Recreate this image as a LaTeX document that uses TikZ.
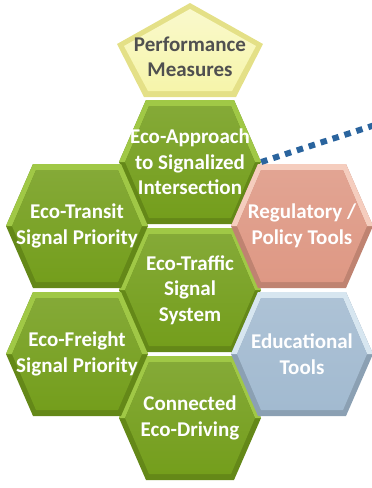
\documentclass[tikz,border=0pt]{standalone}
\usepackage{fontspec}
\setmainfont{Carlito}
\usetikzlibrary{calc}

\definecolor{ecogreen}{RGB}{116,158,28}
\definecolor{ecogreenlt}{RGB}{160,200,70}
\definecolor{policypink}{RGB}{222,152,132}
\definecolor{policypinklt}{RGB}{245,205,190}
\definecolor{edublue}{RGB}{162,186,208}
\definecolor{edubluelt}{RGB}{215,230,240}
\definecolor{measyellow}{RGB}{246,245,170}
\definecolor{measyellowdk}{RGB}{228,224,135}
\definecolor{measgray}{RGB}{80,80,80}
\definecolor{linkblue}{RGB}{42,100,158}

% hexagonal tile: name, x, y, colour, highlight, text
\newcommand{\hexcell}[6]{%
  \begin{scope}[shift={(#2,#3)}]
    \fill[#4!86!black] (-71,0) -- (-44,-62) -- (44,-62) -- (71,0) -- (44,62) -- (-44,62) -- cycle;
    \fill[#5] (-71,0) -- (-44,-62) -- (44,-62) -- (71,0) -- (65,0) -- (41,-56) -- (-41,-56) -- (-65,0) -- cycle;
    \shade[top color=#4!88!white, bottom color=#4] (-65,0) -- (-41,-56) -- (41,-56) -- (65,0) -- (41,56) -- (-41,56) -- cycle;
  \end{scope}
  \node[hexlabel] (#1) at (#2,#3) {#6};
}

\begin{document}
\begin{tikzpicture}[
    x=1pt, y=-1pt,
    hexlabel/.style={text=white, align=center, inner sep=0, minimum width=142pt,
        font=\bfseries\fontsize{21}{25.5}\selectfont},
    measlabel/.style={text=measgray, align=center, inner sep=0,
        font=\bfseries\fontsize{21}{25.5}\selectfont},
    linkdots/.style={draw=linkblue, line width=6pt, dash pattern=on 6.5pt off 6pt}]
\useasboundingbox (0,0) rectangle (372,488);

% performance measures pentagon
\fill[measyellowdk] (190,3) -- (263,44) -- (236,97) -- (144,97) -- (117,44) -- cycle;
\shade[top color=measyellow!60!white, bottom color=measyellow] (190,9) -- (256,46) -- (232,91) -- (148,91) -- (124,46) -- cycle;
\node[measlabel] (measures) at (190,57) {Performance\\Measures};

% centre column
\hexcell{approach}{190}{162}{ecogreen}{ecogreenlt}{Eco-Approach\\to Signalized\\Intersection}
\hexcell{traffic}{190}{290}{ecogreen}{ecogreenlt}{Eco-Traffic\\Signal\\System}
\hexcell{driving}{190}{418}{ecogreen}{ecogreenlt}{Connected\\Eco-Driving}

% left column
\hexcell{transit}{77}{226}{ecogreen}{ecogreenlt}{Eco-Transit\\Signal Priority}
\hexcell{freight}{77}{354}{ecogreen}{ecogreenlt}{Eco-Freight\\Signal Priority}

% right column
\hexcell{policy}{302}{226}{policypink}{policypinklt}{Regulatory /\\Policy Tools}
\hexcell{education}{302}{354}{edublue}{edubluelt}{Educational\\Tools}

% dotted link
\coordinate (linkend) at (378,124);
\path[linkdots] (approach.east) -- (linkend);

\end{tikzpicture}
\end{document}
